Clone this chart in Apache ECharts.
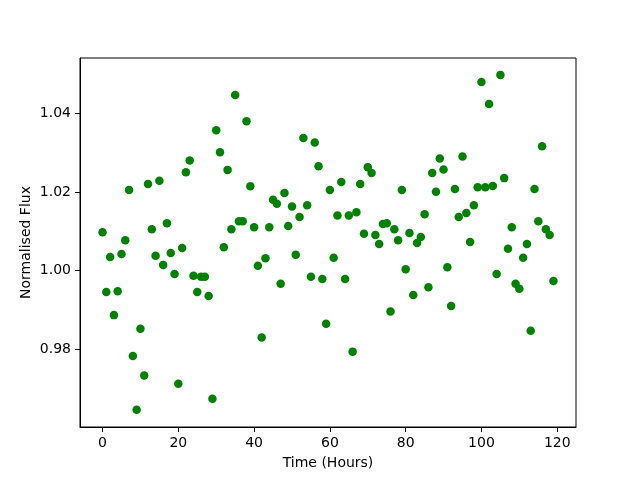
<!DOCTYPE html>
<html>
<head>
<meta charset="utf-8">
<script src="https://cdn.jsdelivr.net/npm/echarts@6/dist/echarts.min.js"></script>
<style>
  html, body { margin: 0; padding: 0; background: #fff; }
  #chart { width: 640px; height: 480px; }
</style>
</head>
<body>
<div id="chart"></div>
<script>
// time of each sample (hours)
var hours = [
  0, 1, 2, 3, 4, 5, 6, 7, 8, 9, 10, 11, 12, 13, 14, 15, 16, 17, 18, 19,
  20, 21, 22, 23, 24, 25, 26, 27, 28, 29, 30, 31, 32, 33, 34, 35, 36, 37, 38, 39,
  40, 41, 42, 43, 44, 45, 46, 47, 48, 49, 50, 51, 52, 53, 54, 55, 56, 57, 58, 59,
  60, 61, 62, 63, 64, 65, 66, 67, 68, 69, 70, 71, 72, 73, 74, 75, 76, 77, 78, 79,
  80, 81, 82, 83, 84, 85, 86, 87, 88, 89, 90, 91, 92, 93, 94, 95, 96, 97, 98, 99,
  100, 101, 102, 103, 104, 105, 106, 107, 108, 109, 110, 111, 112, 113, 114, 115, 116, 117, 118, 119
]

// normalised flux
var flux = [
  1.0097, 0.9945, 1.0034, 0.9886, 0.9947, 1.0042, 1.0077, 1.0205, 0.9782, 0.9645,
  0.9851, 0.9732, 1.0220, 1.0105, 1.0037, 1.0228, 1.0014, 1.0120, 1.0044, 0.9991,
  0.9711, 1.0057, 1.0250, 1.0280, 0.9986, 0.9945, 0.9984, 0.9984, 0.9935, 0.9673,
  1.0357, 1.0301, 1.0059, 1.0256, 1.0105, 1.0447, 1.0125, 1.0125, 1.0380, 1.0214,
  1.0110, 1.0012, 0.9829, 1.0031, 1.0110, 1.0180, 1.0170, 0.9966, 1.0197, 1.0113,
  1.0163, 1.0040, 1.0136, 1.0337, 1.0166, 0.9984, 1.0326, 1.0265, 0.9978, 0.9864,
  1.0205, 1.0032, 1.0140, 1.0225, 0.9978, 1.0140, 0.9793, 1.0148, 1.0220, 1.0093,
  1.0263, 1.0248, 1.0090, 1.0067, 1.0118, 1.0120, 0.9895, 1.0105, 1.0077, 1.0205,
  1.0003, 1.0095, 0.9937, 1.0070, 1.0085, 1.0143, 0.9957, 1.0248, 1.0200, 1.0285,
  1.0257, 1.0008, 0.9909, 1.0207, 1.0136, 1.0290, 1.0146, 1.0072, 1.0166, 1.0212,
  1.0480, 1.0212, 1.0424, 1.0215, 0.9991, 1.0498, 1.0235, 1.0055, 1.0110, 0.9966,
  0.9953, 1.0032, 1.0067, 0.9846, 1.0207, 1.0125, 1.0316, 1.0105, 1.0090, 0.9973
]

var xTicks = [0, 20, 40, 60, 80, 100, 120]
var yTicks = [0.98, 1.00, 1.02, 1.04]

var chart = echarts.init(document.getElementById('chart'))

var axisText = {
  color: '#000',
  fontFamily: 'DejaVu Sans',
  fontSize: 14
}

chart.setOption({
  animation: false,
  grid: {
    left: 80,
    right: 64,
    top: 58,
    bottom: 53,
    show: true,
    borderColor: '#000',
    borderWidth: 1,
    backgroundColor: 'transparent'
  },
  xAxis: {
    type: 'value',
    min: -5.95,
    max: 124.95,
    name: 'Time (Hours)',
    nameLocation: 'middle',
    nameGap: 29,
    nameMoveOverlap: false,
    nameTextStyle: axisText,
    axisLine: { show: true, onZero: false, lineStyle: { color: '#000', width: 1 } },
    axisTick: { show: true, length: 5, customValues: xTicks, lineStyle: { color: '#000', width: 1 } },
    axisLabel: Object.assign({ margin: 9, customValues: xTicks }, axisText),
    splitLine: { show: false }
  },
  yAxis: {
    type: 'value',
    min: 0.9601,
    max: 1.0541,
    name: 'Normalised Flux',
    nameLocation: 'middle',
    nameGap: 47,
    nameMoveOverlap: false,
    nameTextStyle: axisText,
    axisLine: { show: true, onZero: false, lineStyle: { color: '#000', width: 1 } },
    axisTick: { show: true, length: 5, customValues: yTicks, lineStyle: { color: '#000', width: 1 } },
    axisLabel: Object.assign({
      margin: 9,
      customValues: yTicks,
      formatter: function (v) { return v.toFixed(2) }
    }, axisText),
    splitLine: { show: false }
  },
  series: [{
    type: 'scatter',
    data: hours.map(function (h, i) { return [h, flux[i]] }),
    symbolSize: 8.5,
    itemStyle: { color: '#008000', opacity: 1 },
    emphasis: { disabled: true }
  }]
})
</script>
</body>
</html>
